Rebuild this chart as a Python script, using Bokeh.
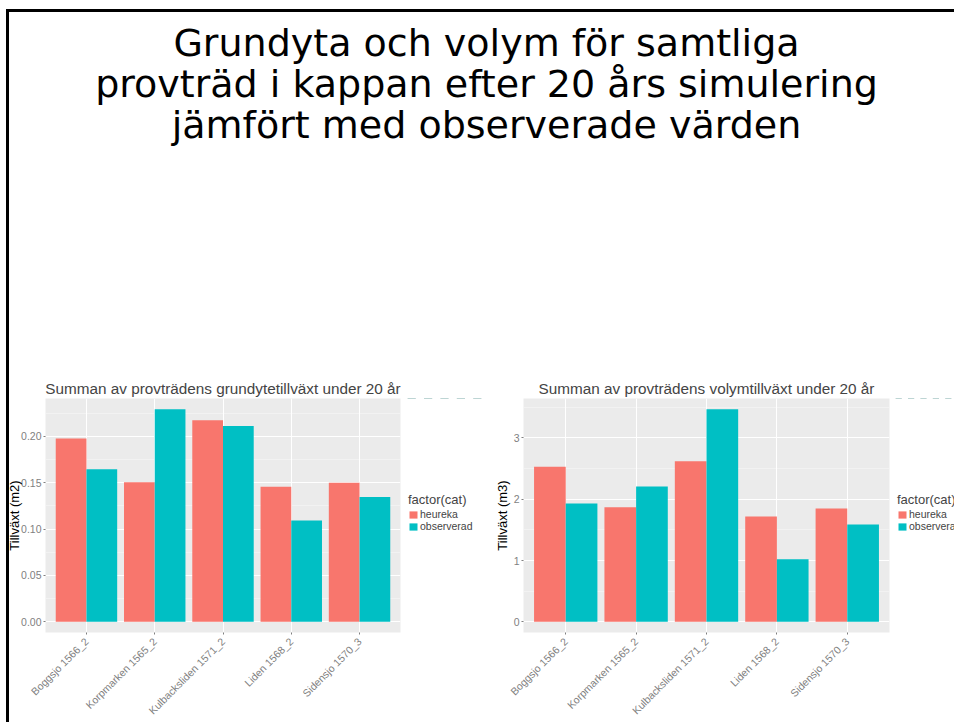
import math
from bokeh.plotting import figure
from bokeh.models import (ColumnDataSource, FactorRange, Range1d, FixedTicker,
                          NumeralTickFormatter, Legend, LegendItem, Label)
from bokeh.transform import dodge
from bokeh.layouts import column, row
from bokeh.embed import file_html
from bokeh.resources import INLINE

# ---------------- data ----------------
slide_title = ["Grundyta och volym för samtliga",
               "provträd i kappan efter 20 års simulering",
               "jämfört med observerade värden"]

ytor = ["Boggsjo 1566_2", "Korpmarken 1565_2", "Kulbacksliden 1571_2",
        "Liden 1568_2", "Sidensjo 1570_3"]
series = ["heureka", "observerad"]
series_colors = ["#F8766D", "#00BFC4"]

grundyta_heureka = [0.1975, 0.1505, 0.2171, 0.1456, 0.1498]
grundyta_observerad = [0.1644, 0.2292, 0.2110, 0.1093, 0.1345]
grundyta_ticks = [0.00, 0.05, 0.10, 0.15, 0.20]

volym_heureka = [2.53, 1.87, 2.62, 1.72, 1.85]
volym_observerad = [1.93, 2.21, 3.47, 1.02, 1.59]
volym_ticks = [0, 1, 2, 3]

chart_titles = ["Summan av provträdens grundytetillväxt under 20 år",
                "Summan av provträdens volymtillväxt under 20 år"]
y_labels = ["Tillväxt (m2)", "Tillväxt (m3)"]
x_label = "Yta"
legend_title = "factor(cat)"

# ---------------- layout constants ----------------
FONT = "Liberation Sans"
TITLE_FONT = "DejaVu Sans"
TITLE_W, TITLE_H = 945, 358
CHART_H = 372
GREY_TXT = "#7F7F7F"
PAD = 0.1          # ggplot-like padding beyond the outer category cells


def make_chart(title, ylabel, heur, obs, ticks, fmt, width, bl, br, bt,
               ylab_standoff, styles=None):
    src = ColumnDataSource(dict(yta=ytor, heureka=heur, observerad=obs))
    top = max(max(heur), max(obs))
    n = len(ytor)
    xr = FactorRange(factors=ytor, range_padding=2 * PAD / n)
    yr = Range1d(-0.05 * top, 1.05 * top)
    p = figure(x_range=xr, y_range=yr, width=width, height=CHART_H,
               output_backend="svg", toolbar_location=None,
               min_border_left=bl, min_border_right=br,
               min_border_top=bt, min_border_bottom=110,
               background_fill_color="#EBEBEB", border_fill_color="white",
               outline_line_color=None, styles=styles or {})

    p.vbar(x=dodge("yta", -0.225, range=xr), top=series[0], width=0.45,
           source=src, fill_color=series_colors[0], line_color=None)
    p.vbar(x=dodge("yta", 0.225, range=xr), top=series[1], width=0.45,
           source=src, fill_color=series_colors[1], line_color=None)

    step = ticks[1] - ticks[0]
    minors = [t + step / 2 for t in ticks]
    p.yaxis.ticker = FixedTicker(ticks=ticks, minor_ticks=minors)
    p.yaxis.formatter = NumeralTickFormatter(format=fmt)

    p.ygrid.grid_line_color = "white"
    p.ygrid.grid_line_width = 1
    p.ygrid.minor_grid_line_color = "white"
    p.ygrid.minor_grid_line_alpha = 0.6
    p.ygrid.minor_grid_line_width = 0.6
    p.xgrid.grid_line_color = "white"
    p.xgrid.grid_line_width = 1

    for ax in (p.xaxis, p.yaxis):
        ax.axis_line_color = None
        ax.major_tick_line_color = GREY_TXT
        ax.major_tick_out = 2
        ax.major_tick_in = 0
        ax.minor_tick_line_color = None
        ax.major_label_text_font = FONT
        ax.major_label_text_font_size = "10.5px"
        ax.major_label_text_color = GREY_TXT
        ax.axis_label_text_font = FONT
        ax.axis_label_text_font_size = "13px"
        ax.axis_label_text_font_style = "normal"
        ax.axis_label_text_color = "black"

    p.yaxis.major_label_standoff = 0
    p.yaxis.axis_label = ylabel
    p.yaxis.axis_label_standoff = ylab_standoff

    p.xaxis.major_label_orientation = math.pi / 4
    p.xaxis.major_label_standoff = 5
    p.xaxis.axis_label = x_label
    p.xaxis.axis_label_standoff = -2

    p.title.text = title
    p.title.text_font = FONT
    p.title.text_font_size = "15.3px"
    p.title.text_font_style = "normal"
    p.title.align = "center"
    p.title.standoff = 4
    return p, src


def make_legend_panel(width, src):
    """Companion figure holding the ggplot-style legend for one chart.
    Its bars use the chart's data but lie outside this panel's y range,
    so only the legend keys are seen."""
    lp = figure(width=width, height=CHART_H, x_range=FactorRange(factors=ytor),
                y_range=Range1d(-2, -1),
                title=None, x_axis_location=None, y_axis_location=None, min_border=0,
                outline_line_color=None, toolbar_location=None, output_backend="svg")
    lp.xgrid.visible = False
    lp.ygrid.visible = False
    swatches = [lp.vbar(x="yta", top=name, width=0.5, source=src,
                        fill_color=col, line_color=None)
                for name, col in zip(series, series_colors)]
    legend = Legend(items=[LegendItem(label=s, renderers=[r]) for s, r in zip(series, swatches)],
                    title=legend_title, location=(5, 100),
                    background_fill_alpha=0, border_line_color=None,
                    padding=0, margin=0, spacing=0,
                    glyph_width=10, glyph_height=9, label_height=9,
                    label_standoff=2, title_standoff=1,
                    label_text_font=FONT, label_text_font_size="10.5px",
                    title_text_font=FONT, title_text_font_size="13px",
                    title_text_font_style="normal")
    lp.add_layout(legend)
    return lp


left, left_src = make_chart(chart_titles[0], y_labels[0], grundyta_heureka,
                            grundyta_observerad, grundyta_ticks, "0.00",
                            399, 41, 3, 28, -4, styles={"margin-left": "-5px"})
left_leg = make_legend_panel(82, left_src)
right, right_src = make_chart(chart_titles[1], y_labels[1], volym_heureka,
                              volym_observerad, volym_ticks, "0",
                              407, 38, 3, 26, 1)
right_leg = make_legend_panel(62, right_src)

tp = figure(width=TITLE_W, height=TITLE_H, x_range=Range1d(0, 1), y_range=Range1d(0, 1),
            title=None, x_axis_location=None, y_axis_location=None, min_border=0,
            outline_line_color=None, toolbar_location=None, output_backend="svg")
tp.xgrid.visible = False
tp.ygrid.visible = False
for i, line in enumerate(slide_title):
    tp.add_layout(Label(x=477, y=328 - i * 41, x_units="screen", y_units="screen",
                        text=line, text_align="center", text_baseline="alphabetic",
                        text_font=TITLE_FONT, text_font_size="38px",
                        text_color="black"))

root = column(tp, row(left, left_leg, right, right_leg), width=945, height=710,
              styles={"border-top": "3px solid black",
                      "border-left": "3px solid black",
                      "margin-left": "6px",
                      "margin-top": "9px",
                      "box-sizing": "content-box",
                      "overflow": "hidden"})

open("out.html", "w").write(file_html(root, INLINE))
